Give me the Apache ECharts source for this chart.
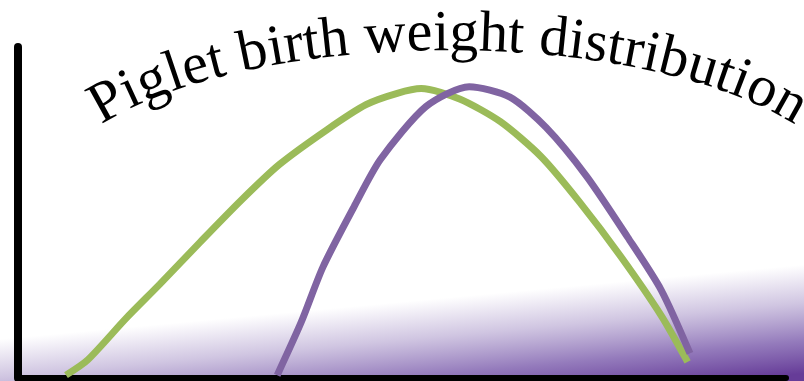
<!DOCTYPE html>
<html>
<head>
<meta charset="utf-8">
<script src="https://cdn.jsdelivr.net/npm/echarts@6/dist/echarts.min.js"></script>
<style>
  html, body { margin: 0; padding: 0; background: #fff; }
  #main { width: 804px; height: 381px; }
</style>
</head>
<body>
<div id="main"></div>
<script>
// title and the two curves (birth weight in kg, share of piglets in %)
var titleText = 'Piglet birth weight distribution';

var greenWeight = [0.20, 0.29, 0.45, 0.59, 0.76, 0.93, 1.09, 1.29, 1.45, 1.58, 1.68, 1.84, 2.01, 2.18, 2.34, 2.51, 2.68, 2.79];
var greenShare  = [0.3, 1.9, 6.3, 9.9, 14.4, 18.8, 22.6, 26.3, 28.9, 30.1, 30.6, 29.5, 27.1, 23.4, 18.6, 12.9, 6.6, 1.7];

var purpleWeight = [1.08, 1.18, 1.27, 1.40, 1.51, 1.70, 1.88, 2.05, 2.20, 2.37, 2.54, 2.68, 2.80];
var purpleShare  = [0.3, 5.9, 11.7, 18.1, 23.1, 28.7, 30.8, 29.7, 26.5, 21.3, 14.9, 9.3, 2.6];

function pairs(xs, ys) {
	var out = [];
	for (var i = 0; i < xs.length; i++) {
		out.push([xs[i], ys[i]]);
	}
	return out;
}

/**
 * lay the title out letter by letter along an arch (ellipse top)
 */
function archTitle(text) {
	var fontSize = 58;
	var font = fontSize + 'px "Liberation Serif", "Times New Roman", serif';
	var cx = 448, a = 400, b = 150, cy = 54 + b;
	var ctx = document.createElement('canvas').getContext('2d');
	ctx.font = font;

	// arc length table along the ellipse
	var steps = 2000, t0 = -1.4, t1 = 1.4;
	var ts = [], ss = [], s = 0;
	for (var i = 0; i <= steps; i++) {
		var t = t0 + (t1 - t0) * i / steps;
		if (i > 0) {
			var tp = ts[i - 1];
			var dx = a * (Math.sin(t) - Math.sin(tp));
			var dy = b * (Math.cos(tp) - Math.cos(t));
			s += Math.sqrt(dx * dx + dy * dy);
		}
		ts.push(t);
		ss.push(s);
	}
	var total = ctx.measureText(text).width;
	var mid = ss[steps] / 2;
	var start = mid - total / 2;

	function tAt(len) {
		for (var k = 1; k <= steps; k++) {
			if (ss[k] >= len) return ts[k];
		}
		return ts[steps];
	}

	var items = [];
	var pos = start;
	for (var c = 0; c < text.length; c++) {
		var ch = text[c];
		var w = ctx.measureText(ch).width;
		var t = tAt(pos + w / 2);
		var px = cx + a * Math.sin(t);
		var py = cy - b * Math.cos(t);
		var ang = Math.atan2(b * Math.sin(t), a * Math.cos(t));
		// shift from baseline to glyph middle along the normal
		var off = fontSize * 0.33;
		px += Math.sin(ang) * off;
		py -= Math.cos(ang) * off;
		pos += w;
		if (ch === ' ') continue;
		items.push({
			type: 'text',
			x: px,
			y: py,
			rotation: -ang,
			z: 10,
			style: {
				text: ch,
				font: font,
				fill: '#000',
				align: 'center',
				verticalAlign: 'middle'
			}
		});
	}
	return items;
}

var myChart = echarts.init(document.getElementById('main'));

var graphics = [{
	type: 'rect',
	z: -10,
	shape: { x: 0, y: 240, width: 804, height: 141 },
	style: {
		fill: new echarts.graphic.LinearGradient(400, 302, 410, 410, [
			{ offset: 0, color: 'rgba(120, 90, 170, 0)' },
			{ offset: 0.35, color: 'rgba(120, 90, 170, 0.35)' },
			{ offset: 0.7, color: 'rgba(112, 78, 165, 0.75)' },
			{ offset: 1, color: 'rgba(102, 60, 152, 1)' }
		], true)
	}
}].concat(archTitle(titleText));

var option = {
	animation: false,
	backgroundColor: '#fff',
	grid: { left: 18, right: 18, top: 47, bottom: 3 },
	xAxis: {
		type: 'value',
		min: 0,
		max: 3.2,
		axisLine: { show: true, lineStyle: { color: '#000', width: 6 } },
		axisTick: { show: false },
		axisLabel: { show: false },
		splitLine: { show: false }
	},
	yAxis: {
		type: 'value',
		min: 0,
		max: 35,
		axisLine: { show: true, lineStyle: { color: '#000', width: 8 } },
		axisTick: { show: false },
		axisLabel: { show: false },
		splitLine: { show: false }
	},
	graphic: graphics,
	series: [{
		name: 'green',
		type: 'line',
		smooth: 0.25,
		showSymbol: false,
		data: pairs(greenWeight, greenShare),
		lineStyle: { color: '#9bbb59', width: 7 }
	}, {
		name: 'purple',
		type: 'line',
		smooth: 0.25,
		showSymbol: false,
		data: pairs(purpleWeight, purpleShare),
		lineStyle: { color: '#8064a2', width: 7 }
	}]
};

myChart.setOption(option);
</script>
</body>
</html>
